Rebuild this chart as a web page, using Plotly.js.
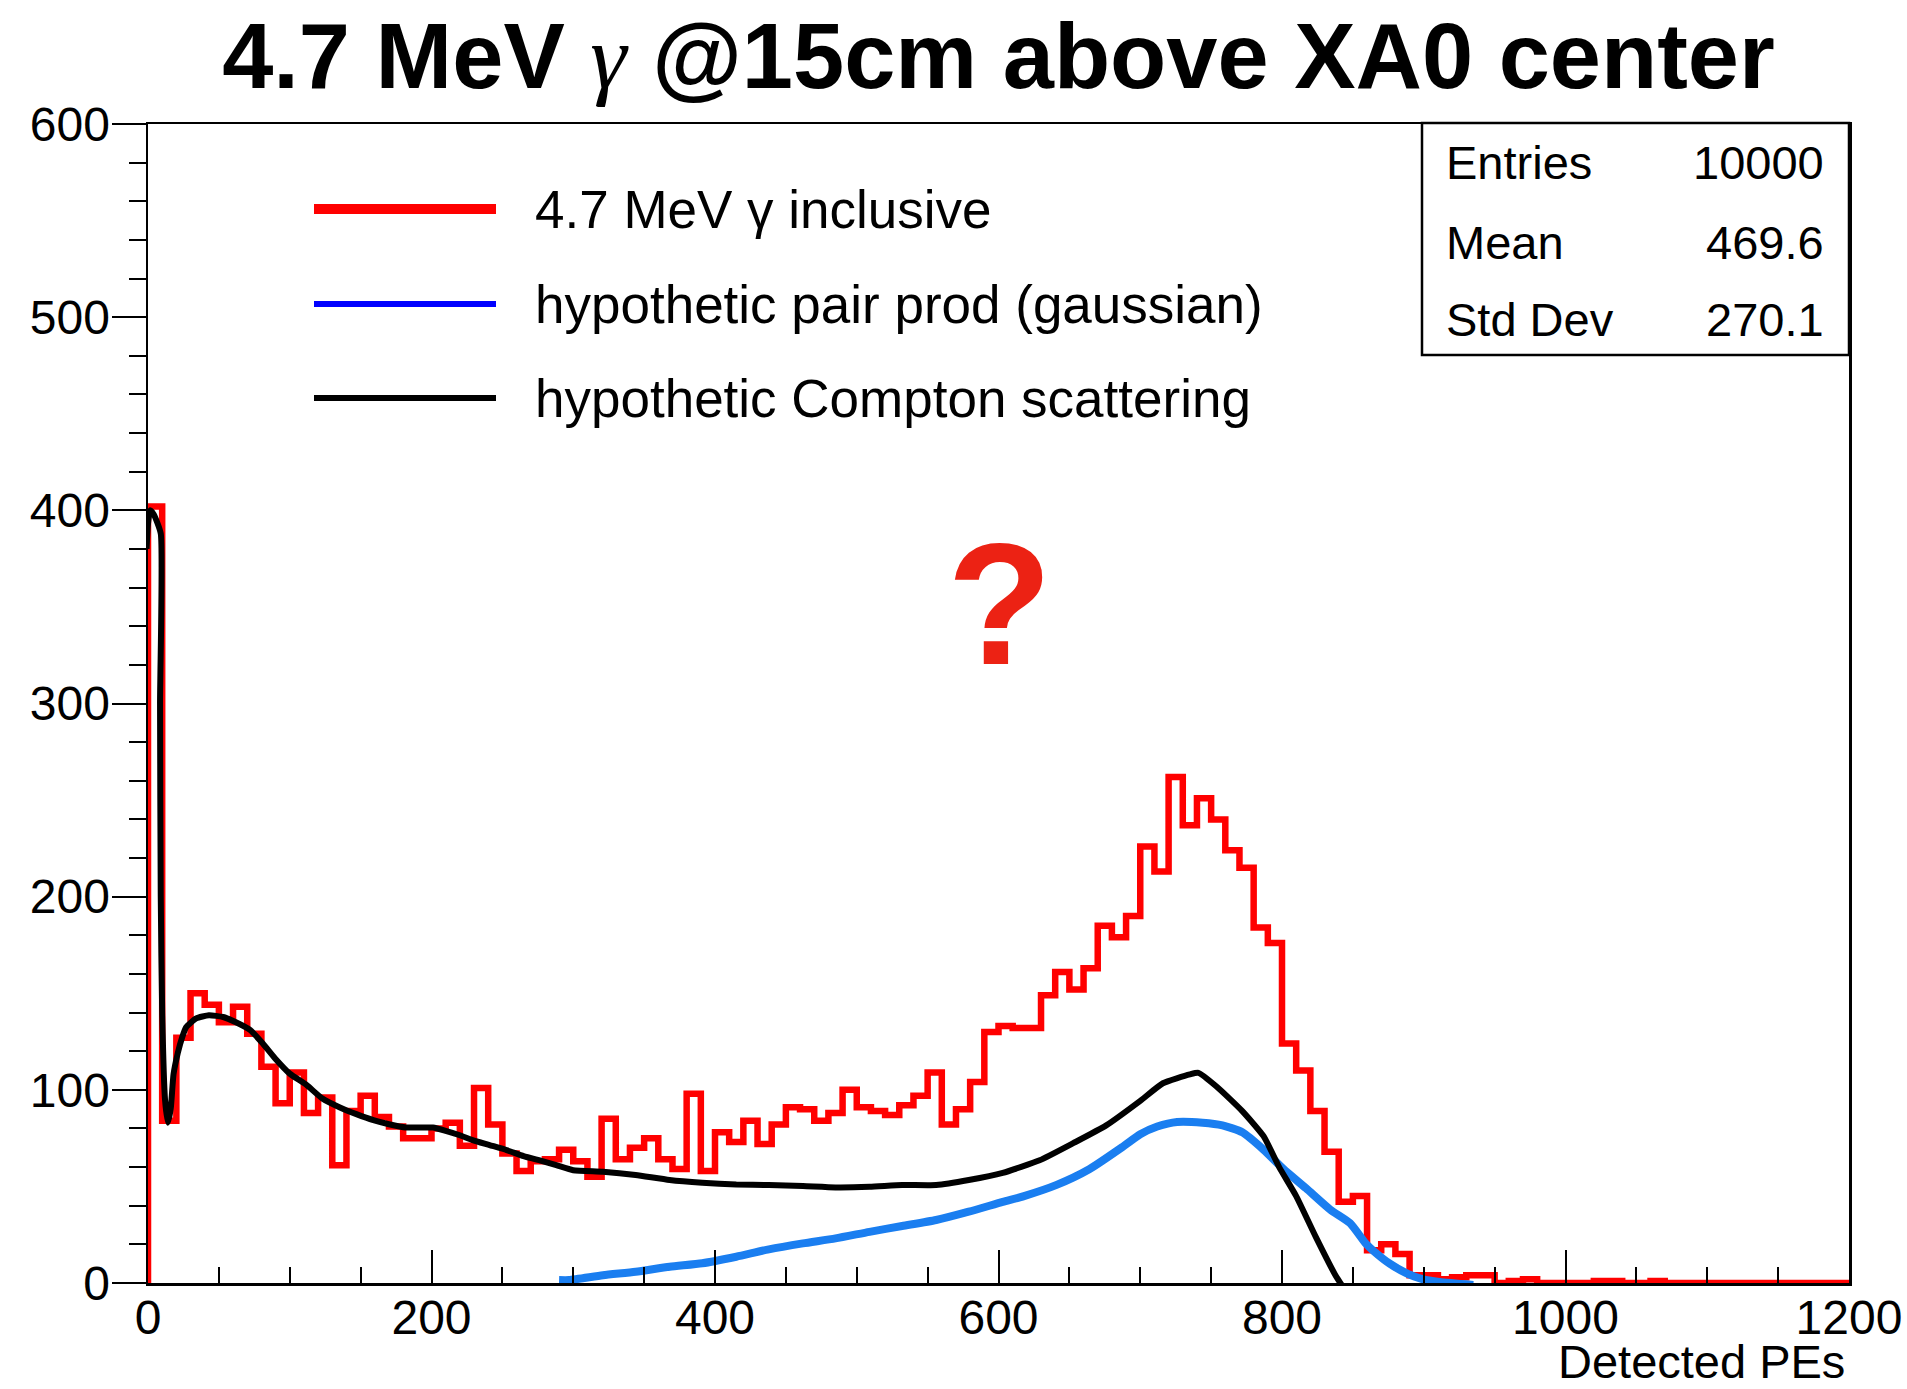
<!DOCTYPE html>
<html>
<head>
<meta charset="utf-8">
<script src="https://cdn.plot.ly/plotly-3.0.1.min.js"></script>
<style>
  html, body { margin: 0; padding: 0; background: #fff; }
  #chart { width: 1907px; height: 1389px; }
</style>
</head>
<body>
<div id="chart"></div>
<script>
// Histogram of detected photo-electrons, 10 PE bins from 0 to 1200
const binWidth = 10;
const inclusiveCounts = [
  402, 84, 127, 150, 144, 135, 143, 129, 112, 93,
  109, 88, 96, 61, 89, 97, 86, 81, 75, 75,
  80, 83, 71, 101, 82, 67, 58, 63, 64, 69,
  63, 55, 85, 64, 70, 75, 64, 59, 98, 58,
  78, 73, 84, 72, 82, 91, 90, 84, 88, 100,
  91, 89, 87, 92, 97, 109, 82, 90, 104, 130,
  133, 132, 132, 149, 161, 152, 163, 185, 179, 190,
  226, 213, 262, 237, 251, 240, 224, 215, 184, 176,
  124, 110, 89, 68, 42, 45, 17, 20, 15, 4,
  4, 2, 3, 4, 4, 0, 1, 2, 0, 0,
  0, 0, 1, 1, 0, 0, 1, 0, 0, 0,
  0, 0, 0, 0, 0, 0, 0, 0, 0, 0
];

// Hand-drawn Compton-scattering shape
const comptonX = [-1, 0, 1.5, 4, 9, 8.5, 9, 10, 12, 14, 16, 18, 21, 24, 27, 34, 43, 53, 62, 72,
  81, 90, 100, 112, 123, 135, 147, 159, 170, 182, 194, 201, 210, 220, 229, 241, 253, 265, 277, 288,
  300, 321, 344, 368, 391, 415, 438, 462, 485, 509, 532, 556, 579, 603, 629, 653, 676, 700, 716, 735,
  741, 754, 772, 787, 798, 810, 824, 838, 843];
const comptonY = [380, 393, 400, 398, 388, 300, 200, 140, 95, 83, 90, 108, 119, 127, 132.5, 137, 138.6, 137.7, 135, 131,
  124, 116, 108.4, 102.4, 95.5, 91, 87.4, 84.3, 82.2, 80.5, 80.5, 80.5, 78.8, 76.5, 74, 71.4, 68.8, 65.7, 63.3, 61,
  58.4, 57.6, 55.9, 53.3, 51.9, 51, 50.7, 50.2, 49.5, 49.8, 50.7, 50.7, 53.3, 57, 63.5, 72.5, 81.6, 94.3, 103.4, 108,
  108.8, 101.6, 89, 76, 60, 45, 23.6, 3.6, -2];

// Hand-drawn gaussian pair-production shape
const pairX = [290, 297, 321, 344, 368, 391, 415, 438, 462, 485, 509, 532, 556, 579, 603, 618, 641, 664, 688, 700,
  712, 726, 744, 758, 772, 787, 801, 817, 834, 848, 859, 864, 876, 888, 899, 911, 935];
const pairY = [1.5, 1.5, 4, 5.8, 8.4, 10.2, 13.6, 17.4, 20.5, 23.1, 26.5, 29.5, 32.6, 36.9, 42, 45, 50.8, 58.9, 70.7, 77,
  81, 83.4, 83, 81.6, 78, 69, 59, 49, 38, 31, 20.5, 17, 10, 5, 2, 0.5, -1];

const legendLabels = ['4.7 MeV γ inclusive', 'hypothetic pair prod (gaussian)', 'hypothetic Compton scattering'];
const legendColors = ['#ff0000', '#0000ff', '#000000'];
const statNames = ['Entries', 'Mean', 'Std Dev'];
const statValues = ['10000', '469.6', '270.1'];

const xTickVals = [0, 200, 400, 600, 800, 1000, 1200];
const yTickVals = [0, 100, 200, 300, 400, 500, 600];

// step outline: start and end on the baseline
const lowEdges = inclusiveCounts.map((_, i) => i * binWidth);
const histX = [0].concat(lowEdges, [inclusiveCounts.length * binWidth]);
const histY = [0].concat(inclusiveCounts, [0]);

// pixel geometry of the frame
const W = 1907, H = 1389;
const L = 148, R = 1849, T = 124, B = 1283;
const px = x => (x - L) / (R - L);
const py = y => (B - y) / (B - T);

const FONT = 'Liberation Sans, Arial, Helvetica, sans-serif';

const traces = [
  { x: histX, y: histY, type: 'scatter', mode: 'lines', name: legendLabels[0],
    line: { color: '#ff0000', width: 6.5, shape: 'hv' }, showlegend: false, hoverinfo: 'skip' },
  { x: pairX, y: pairY, type: 'scatter', mode: 'lines', name: legendLabels[1],
    line: { color: '#1a7ef0', width: 8, shape: 'spline', smoothing: 0.6 }, showlegend: false, hoverinfo: 'skip' },
  { x: comptonX, y: comptonY, type: 'scatter', mode: 'lines', name: legendLabels[2],
    line: { color: '#000000', width: 6, shape: 'spline', smoothing: 0.5 }, showlegend: false, hoverinfo: 'skip' }
];

const shapes = [];
const annotations = [];

// legend block
const legendRowsY = [209, 304, 398];
const legendWidths = [10, 6, 6];
legendLabels.forEach((lab, i) => {
  shapes.push({ type: 'line', xref: 'paper', yref: 'paper',
    x0: px(314), x1: px(496), y0: py(legendRowsY[i]), y1: py(legendRowsY[i]),
    line: { color: legendColors[i], width: legendWidths[i] } });
  annotations.push({ xref: 'paper', yref: 'paper', x: px(533), y: py(legendRowsY[i]),
    xanchor: 'left', yanchor: 'middle', showarrow: false, text: lab,
    font: { family: FONT, size: 53, color: '#000' } });
});

// statistics box
shapes.push({ type: 'rect', xref: 'paper', yref: 'paper',
  x0: px(1422), x1: px(1849), y0: py(355), y1: py(123),
  fillcolor: '#ffffff', line: { color: '#000', width: 2.5 }, layer: 'above' });
const statRowsY = [162, 243, 319];
statNames.forEach((n, i) => {
  annotations.push({ xref: 'paper', yref: 'paper', x: px(1444), y: py(statRowsY[i]),
    xanchor: 'left', yanchor: 'middle', showarrow: false, text: n,
    font: { family: FONT, size: 47, color: '#000' } });
  annotations.push({ xref: 'paper', yref: 'paper', x: px(1826), y: py(statRowsY[i]),
    xanchor: 'right', yanchor: 'middle', showarrow: false, text: statValues[i],
    font: { family: FONT, size: 47, color: '#000' } });
});

// x-axis title, right-aligned under the axis
annotations.push({ xref: 'paper', yref: 'paper', x: px(1847), y: py(1361),
  xanchor: 'right', yanchor: 'middle', showarrow: false, text: 'Detected PEs',
  font: { family: FONT, size: 47, color: '#000' } });

// question mark
annotations.push({ xref: 'paper', yref: 'paper', x: px(999), y: py(604),
  xanchor: 'center', yanchor: 'middle', showarrow: false, text: '<b>?</b>',
  font: { family: FONT, size: 172, color: '#ec2214' } });

const layout = {
  width: W, height: H,
  margin: { l: L, r: W - R, t: T, b: H - B, pad: 0 },
  paper_bgcolor: '#ffffff', plot_bgcolor: '#ffffff',
  showlegend: false,
  title: {
    text: '<b>4.7 MeV <span style="font-family:\'Liberation Serif\';font-style:italic;font-weight:normal">γ</span> @15cm above XA0 center</b>',
    font: { family: FONT, size: 92, color: '#000' },
    x: 0.5, xref: 'paper', xanchor: 'center',
    y: 1 - 56 / H, yref: 'container', yanchor: 'middle'
  },
  xaxis: {
    range: [0, 1200], autorange: false,
    showgrid: false, zeroline: false,
    showline: true, mirror: true, linecolor: '#000', linewidth: 2.5,
    ticks: 'inside', ticklen: 33, tickwidth: 2, tickcolor: '#000',
    tickvals: xTickVals, ticktext: xTickVals.map(String),
    tickfont: { family: FONT, size: 48, color: '#000' },
    ticklabelstandoff: -9,
    minor: { dtick: 50, tick0: 0, ticks: 'inside', ticklen: 16, tickwidth: 2, tickcolor: '#000', showgrid: false }
  },
  yaxis: {
    range: [0, 600], autorange: false,
    showgrid: false, zeroline: false,
    showline: true, mirror: true, linecolor: '#000', linewidth: 2.5,
    ticks: 'outside', ticklen: 34, tickwidth: 2, tickcolor: '#000',
    tickvals: yTickVals, ticktext: yTickVals.map(String),
    tickfont: { family: FONT, size: 48, color: '#000' },
    ticklabelstandoff: -8,
    minor: { dtick: 20, tick0: 0, ticks: 'outside', ticklen: 17, tickwidth: 2, tickcolor: '#000', showgrid: false }
  },
  shapes: shapes,
  annotations: annotations
};

Plotly.newPlot('chart', traces, layout, { staticPlot: true, displayModeBar: false });
</script>
</body>
</html>
